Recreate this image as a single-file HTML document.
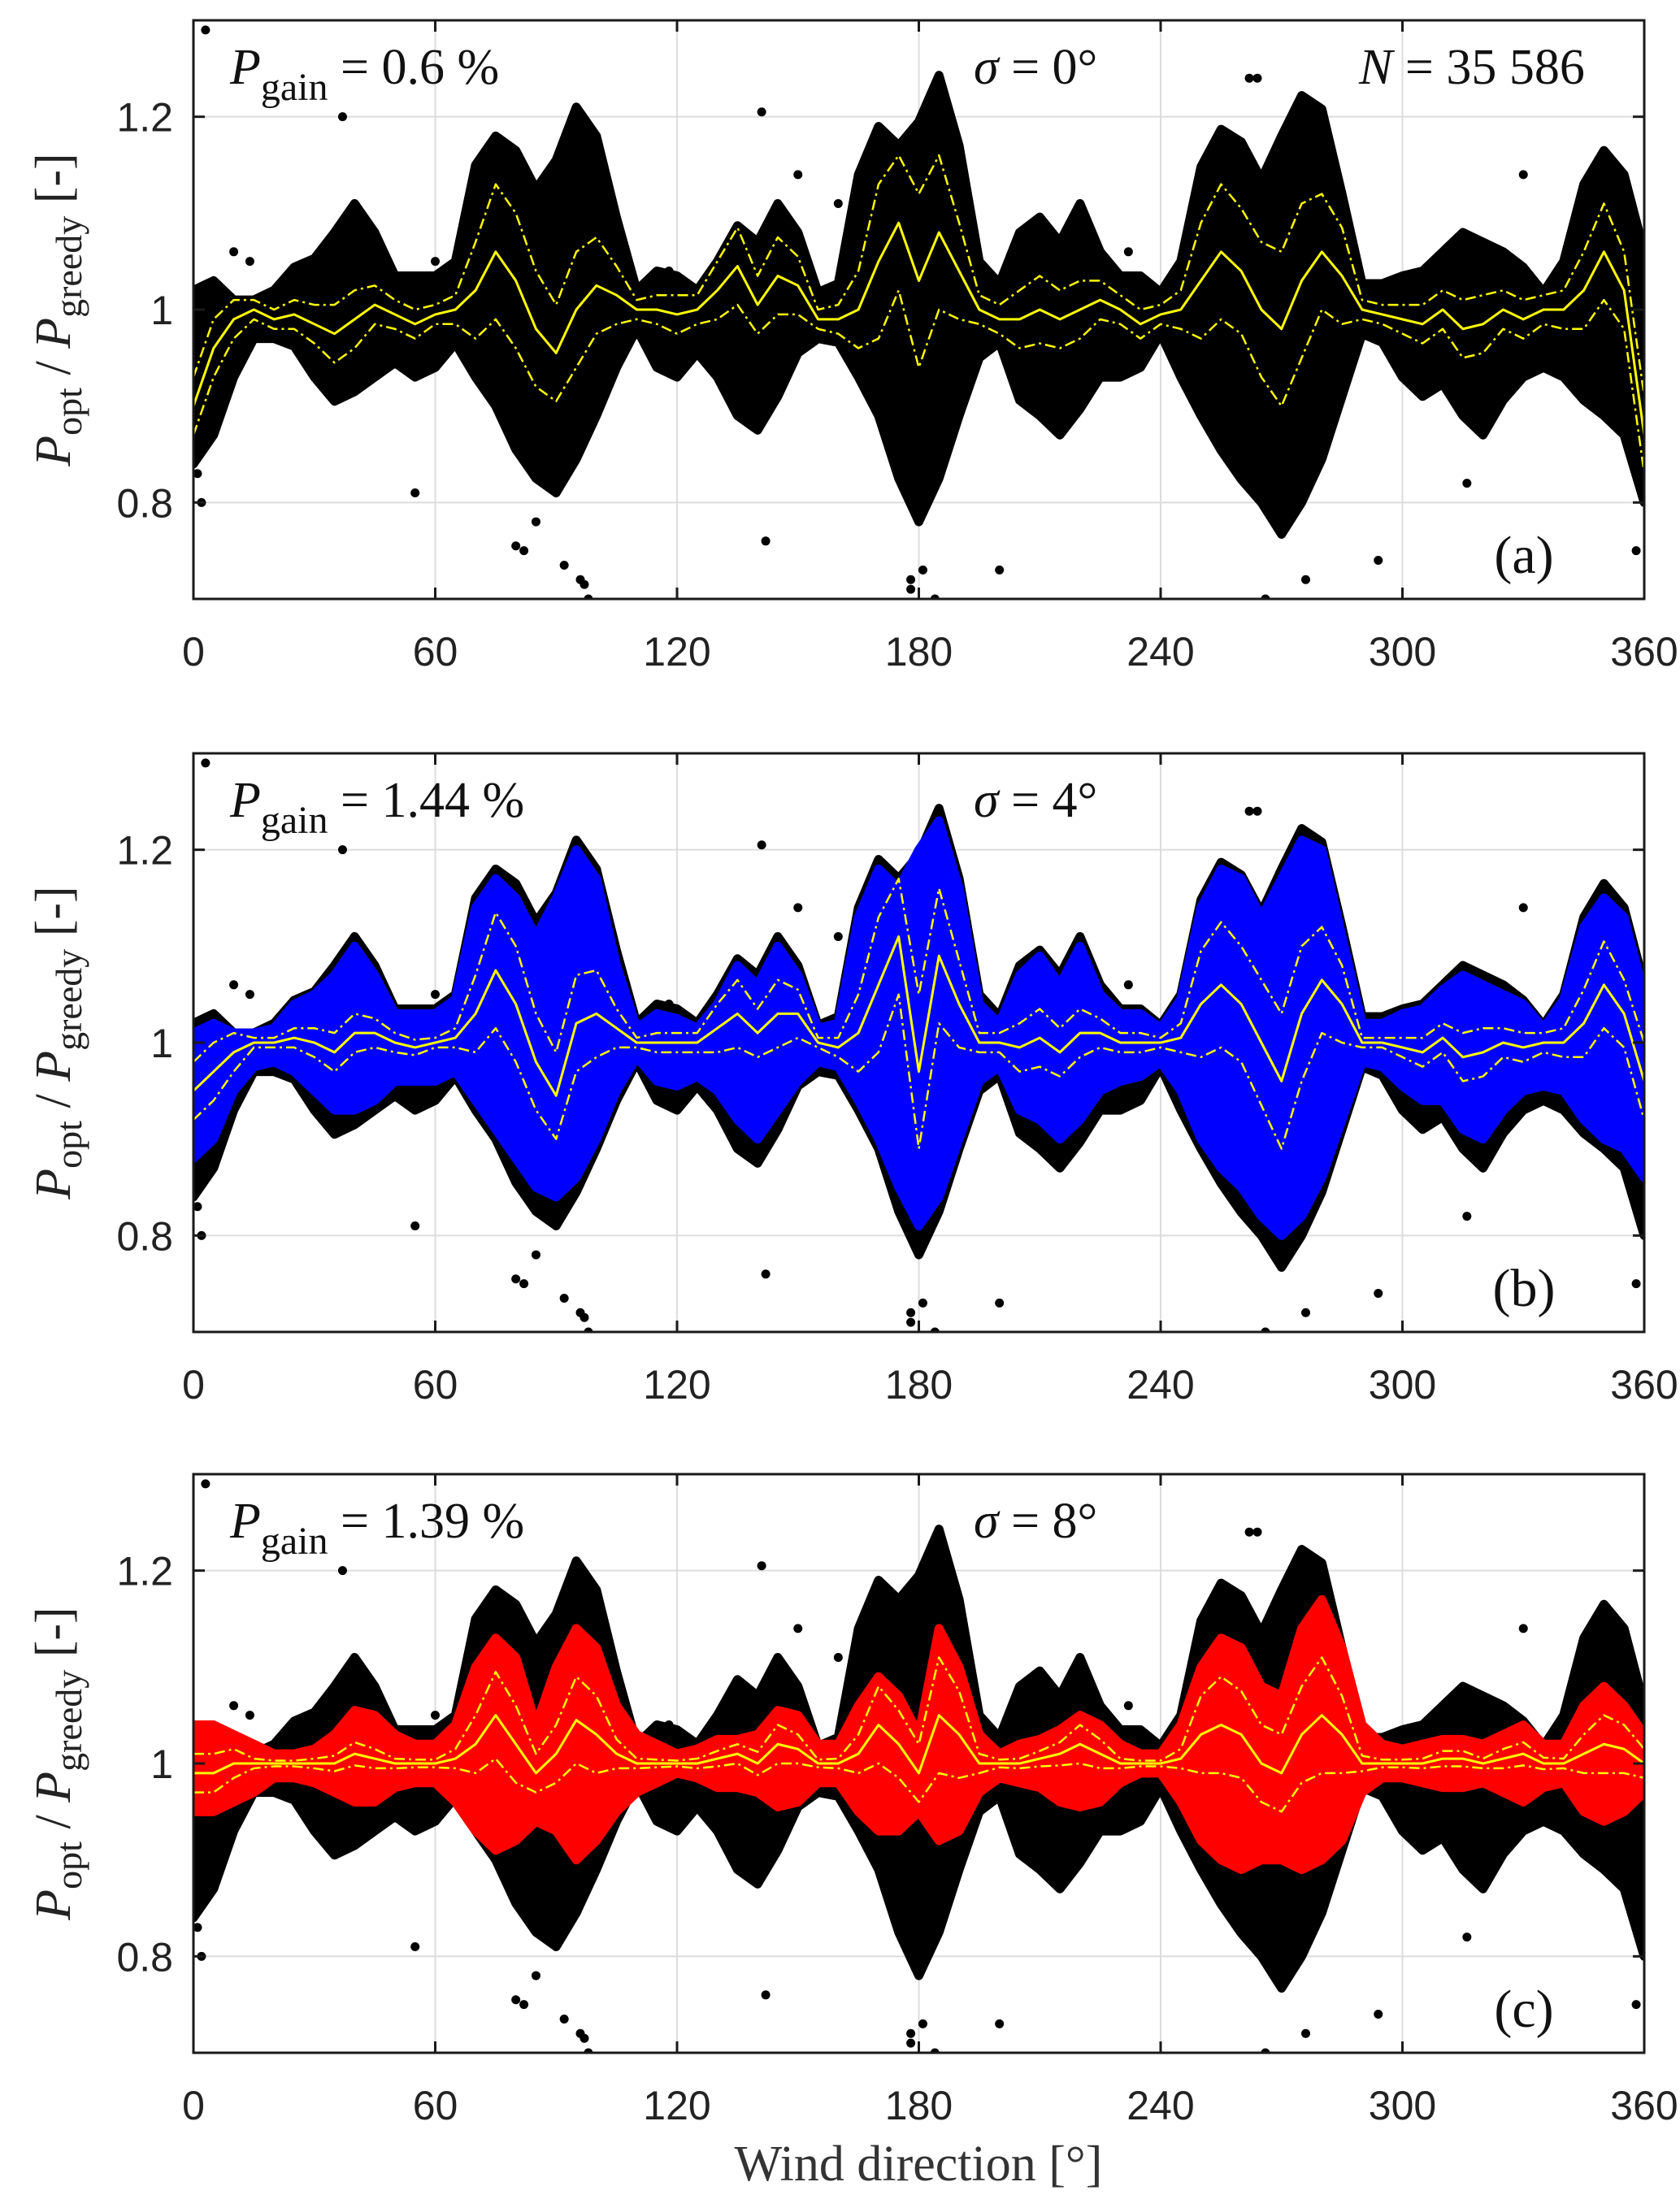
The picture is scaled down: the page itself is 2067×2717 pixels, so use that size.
<!DOCTYPE html>
<html><head><meta charset="utf-8"><style>
html,body{margin:0;padding:0;background:#fff;}
svg{display:block;}
.serif{font-family:"Liberation Serif",serif;}
.sans{font-family:"Liberation Sans",sans-serif;}
</style></head><body>
<svg id="fig" width="2067" height="2717" viewBox="0 0 2067 2717" xmlns="http://www.w3.org/2000/svg"></svg>
<script>
// ---- data (values per 5° bin, 0..360) ----
const directions = [0,5,10,15,20,25,30,35,40,45,50,55,60,65,70,75,80,85,90,95,100,105,110,115,120,125,130,135,140,145,150,155,160,165,170,175,180,185,190,195,200,205,210,215,220,225,230,235,240,245,250,255,260,265,270,275,280,285,290,295,300,305,310,315,320,325,330,335,340,345,350,355,360];
const blackUpper = [1.02,1.03,1.01,1.01,1.02,1.044,1.053,1.08,1.11,1.08,1.035,1.035,1.035,1.05,1.15,1.18,1.165,1.125,1.155,1.21,1.18,1.095,1.02,1.04,1.035,1.02,1.05,1.087,1.07,1.11,1.08,1.018,1.027,1.14,1.19,1.17,1.195,1.243,1.17,1.05,1.027,1.08,1.096,1.07,1.11,1.06,1.035,1.035,1.018,1.05,1.148,1.187,1.174,1.135,1.18,1.222,1.208,1.12,1.027,1.027,1.035,1.04,1.06,1.08,1.07,1.06,1.044,1.018,1.05,1.13,1.165,1.14,1.06];
const blackLower = [0.84,0.87,0.93,0.97,0.97,0.962,0.93,0.905,0.915,0.93,0.945,0.93,0.94,0.965,0.93,0.9,0.855,0.825,0.81,0.845,0.89,0.94,0.98,0.94,0.93,0.955,0.93,0.89,0.875,0.91,0.955,0.97,0.966,0.93,0.89,0.825,0.78,0.825,0.89,0.95,0.966,0.906,0.89,0.87,0.897,0.93,0.93,0.94,0.975,0.93,0.89,0.854,0.824,0.8,0.767,0.8,0.845,0.91,0.975,0.966,0.93,0.91,0.923,0.89,0.87,0.906,0.93,0.94,0.93,0.906,0.89,0.87,0.8];
const blueUpper = [1.01,1.02,1.01,1.01,1.015,1.04,1.05,1.07,1.1,1.07,1.03,1.03,1.03,1.045,1.14,1.17,1.15,1.11,1.15,1.2,1.17,1.08,1.015,1.03,1.025,1.015,1.04,1.08,1.06,1.1,1.07,1.015,1.02,1.13,1.18,1.16,1.2,1.23,1.16,1.04,1.02,1.07,1.09,1.06,1.1,1.05,1.03,1.03,1.015,1.045,1.14,1.18,1.17,1.13,1.17,1.21,1.2,1.11,1.02,1.02,1.03,1.035,1.055,1.07,1.06,1.05,1.04,1.015,1.045,1.12,1.15,1.13,1.05];
const blueLower = [0.88,0.9,0.95,0.975,0.98,0.97,0.95,0.93,0.93,0.94,0.96,0.96,0.96,0.97,0.94,0.91,0.88,0.85,0.84,0.86,0.9,0.95,0.985,0.96,0.955,0.965,0.95,0.92,0.9,0.93,0.96,0.98,0.975,0.94,0.9,0.85,0.81,0.84,0.9,0.96,0.975,0.93,0.92,0.9,0.92,0.95,0.96,0.965,0.98,0.95,0.9,0.87,0.85,0.82,0.8,0.82,0.86,0.92,0.98,0.975,0.955,0.94,0.94,0.91,0.9,0.93,0.95,0.955,0.95,0.92,0.9,0.89,0.86];
const redUpper = [1.04,1.04,1.03,1.02,1.01,1.01,1.015,1.03,1.055,1.05,1.03,1.02,1.02,1.04,1.1,1.13,1.11,1.04,1.1,1.14,1.12,1.06,1.03,1.02,1.01,1.015,1.025,1.025,1.03,1.055,1.05,1.02,1.02,1.06,1.09,1.07,1.03,1.14,1.1,1.03,1.01,1.02,1.025,1.035,1.05,1.04,1.02,1.01,1.01,1.04,1.1,1.13,1.12,1.08,1.07,1.14,1.17,1.12,1.04,1.02,1.015,1.02,1.025,1.025,1.02,1.03,1.04,1.02,1.02,1.06,1.08,1.06,1.03];
const redLower = [0.95,0.95,0.96,0.97,0.985,0.985,0.98,0.97,0.96,0.96,0.975,0.98,0.98,0.96,0.93,0.91,0.92,0.94,0.93,0.9,0.92,0.95,0.97,0.98,0.99,0.985,0.975,0.975,0.97,0.955,0.96,0.98,0.98,0.95,0.93,0.93,0.95,0.92,0.93,0.97,0.985,0.98,0.975,0.96,0.955,0.96,0.98,0.99,0.99,0.96,0.92,0.9,0.89,0.9,0.9,0.89,0.9,0.92,0.97,0.985,0.985,0.98,0.975,0.975,0.98,0.97,0.96,0.975,0.98,0.95,0.94,0.95,0.97];
const meanA = [0.9,0.96,0.99,1.0,0.99,0.995,0.985,0.975,0.99,1.005,0.995,0.985,0.995,1.0,1.02,1.06,1.03,0.98,0.955,1.0,1.025,1.015,1.0,1.0,0.995,1.0,1.02,1.045,1.005,1.035,1.025,0.99,0.99,1.0,1.05,1.09,1.03,1.08,1.04,1.0,0.99,0.99,1.0,0.99,1.0,1.01,1.0,0.985,0.995,1.0,1.03,1.06,1.04,1.0,0.98,1.03,1.06,1.035,1.0,0.995,0.99,0.985,1.0,0.98,0.985,1.0,0.99,1.0,1.0,1.02,1.06,1.02,0.87];
const stdA = [0.03,0.03,0.02,0.01,0.01,0.015,0.02,0.03,0.03,0.02,0.015,0.015,0.01,0.015,0.05,0.07,0.07,0.06,0.05,0.06,0.05,0.03,0.01,0.015,0.02,0.015,0.03,0.04,0.03,0.04,0.03,0.01,0.015,0.04,0.08,0.07,0.09,0.08,0.05,0.015,0.015,0.03,0.035,0.03,0.03,0.02,0.015,0.015,0.01,0.02,0.06,0.07,0.065,0.07,0.08,0.08,0.06,0.05,0.01,0.01,0.015,0.02,0.02,0.03,0.03,0.02,0.02,0.015,0.02,0.04,0.05,0.04,0.04];
const meanB = [0.95,0.97,0.99,1.0,1.0,1.005,1.0,0.99,1.01,1.01,1.0,0.995,1.0,1.005,1.03,1.075,1.04,0.98,0.945,1.02,1.03,1.015,1.0,1.0,1.0,1.0,1.015,1.03,1.01,1.03,1.03,1.0,0.995,1.01,1.06,1.11,0.97,1.09,1.04,1.0,1.0,0.995,1.005,0.99,1.01,1.01,1.0,1.0,1.0,1.005,1.04,1.06,1.04,1.0,0.96,1.03,1.065,1.04,1.0,1.0,0.995,0.99,1.005,0.985,0.99,1.0,0.995,1.0,1.0,1.02,1.06,1.03,0.96];
const stdB = [0.03,0.03,0.02,0.005,0.005,0.01,0.015,0.02,0.02,0.015,0.01,0.008,0.005,0.01,0.04,0.06,0.06,0.05,0.045,0.05,0.045,0.02,0.005,0.01,0.01,0.01,0.025,0.035,0.025,0.035,0.025,0.005,0.01,0.04,0.07,0.06,0.08,0.07,0.045,0.01,0.01,0.025,0.03,0.025,0.025,0.015,0.01,0.01,0.005,0.015,0.055,0.065,0.06,0.065,0.07,0.07,0.055,0.04,0.005,0.005,0.01,0.015,0.015,0.025,0.025,0.015,0.015,0.01,0.015,0.035,0.045,0.035,0.04];
const meanC = [0.99,0.99,1.0,1.0,1.0,1.0,1.0,1.0,1.01,1.005,1.0,1.0,1.0,1.005,1.02,1.05,1.02,0.99,1.01,1.045,1.03,1.01,1.0,1.0,1.0,1.0,1.005,1.01,1.0,1.02,1.015,1.0,1.0,1.01,1.04,1.02,0.99,1.05,1.03,1.0,1.0,1.0,1.005,1.01,1.02,1.01,1.0,1.0,1.0,1.005,1.03,1.04,1.03,1.0,0.99,1.03,1.05,1.03,1.0,1.0,1.0,1.0,1.005,1.005,1.0,1.005,1.01,1.0,1.0,1.01,1.02,1.015,1.0];
const stdC = [0.02,0.02,0.015,0.005,0.003,0.003,0.005,0.008,0.012,0.01,0.005,0.004,0.004,0.01,0.03,0.045,0.04,0.02,0.03,0.045,0.04,0.015,0.005,0.004,0.003,0.005,0.008,0.01,0.012,0.02,0.015,0.004,0.005,0.02,0.04,0.035,0.03,0.06,0.045,0.01,0.004,0.005,0.008,0.012,0.02,0.015,0.005,0.003,0.003,0.01,0.04,0.05,0.045,0.04,0.04,0.05,0.06,0.04,0.008,0.004,0.004,0.005,0.008,0.008,0.005,0.01,0.012,0.006,0.005,0.02,0.03,0.025,0.015];
const outlierDir = [3,14,37,10,55,80,82,85,96,97,98,92,118,142,150,160,178,181,184,200,210,215,232,262,264,266,276,294,316,330,358,359,1,2,60,141,178];
const outlierVal = [1.29,1.05,1.2,1.06,0.81,0.755,0.75,0.78,0.72,0.715,0.7,0.735,1.04,0.76,1.14,1.11,0.71,0.73,0.70,0.73,1.07,1.05,1.06,1.24,1.24,0.70,0.72,0.74,0.82,1.14,0.75,0.82,0.83,0.8,1.05,1.205,0.72];
const xTicks = [0,60,120,180,240,300,360];
const yTicks = [0.8,1,1.2];
const panelTops = [25,927,1814];
const panelGain = ['0.6','1.44','1.39'];
const panelSigma = ['0','4','8'];
const panelLetters = ['(a)','(b)','(c)'];

// ---- layout ----
const NS='http://www.w3.org/2000/svg';
const svg=document.getElementById('fig');
const L=238,R=2023,H=712;
function mk(tag,attrs,parent){const e=document.createElementNS(NS,tag);for(const k in attrs)e.setAttribute(k,attrs[k]);(parent||svg).appendChild(e);return e;}
function xs(d){return L+(d/360)*(R-L);}

for(let p=0;p<3;p++){
  const T=panelTops[p],B=T+H;
  const ys=v=>B-(v-0.7)/0.6*H;
  const g=mk('g',{});
  
  
  const clipId='clip'+p;
  const cp=mk('clipPath',{id:clipId},g);
  mk('rect',{x:L,y:T,width:R-L,height:H},cp);
  xTicks.forEach(t=>{if(t>0&&t<360){const l=mk('line',{x1:xs(t),x2:xs(t),y1:T,y2:B,stroke:'#dcdcdc','stroke-width':2},g);}});
  yTicks.forEach(t=>{const l=mk('line',{x1:L,x2:R,y1:ys(t),y2:ys(t),stroke:'#dcdcdc','stroke-width':2},g);});
  const cg=mk('g',{'clip-path':'url(#'+clipId+')'},g);
  function band(up,lo,color,name){
    let pts=directions.map((d,i)=>xs(d)+','+ys(up[i]));
    for(let i=directions.length-1;i>=0;i--)pts.push(xs(directions[i])+','+ys(lo[i]));
    const e=mk('polygon',{points:pts.join(' '),fill:color,stroke:color,'stroke-width':11,'stroke-linejoin':'round'},cg);
    
    
  }
  band(blackUpper,blackLower,'#000','scatter-greedy-envelope');
  outlierDir.forEach((d,i)=>{const c=mk('circle',{cx:xs(d),cy:ys(outlierVal[i]),r:5.5,fill:'#000'},cg);});
  let mean=meanA,sd=stdA;
  if(p===1){band(blueUpper,blueLower,'#0000ff','scatter-sigma4-envelope');mean=meanB;sd=stdB;}
  if(p===2){band(redUpper,redLower,'#ff0000','scatter-sigma8-envelope');mean=meanC;sd=stdC;}
  const line=(arr,name,dash,w)=>{const e=mk('polyline',{points:directions.map((d,i)=>xs(d)+','+ys(arr[i])).join(' '),fill:'none',stroke:'#ffff00','stroke-width':w,'stroke-dasharray':dash||'none','stroke-linejoin':'round'},cg);};
  line(mean.map((m,i)=>m+sd[i]),'mean-plus-std-line','13,5,3,5',2.5);
  line(mean.map((m,i)=>m-sd[i]),'mean-minus-std-line','13,5,3,5',2.5);
  line(mean,'mean-line',null,3);
  const bx=mk('rect',{x:L,y:T,width:R-L,height:H,fill:'none',stroke:'#1a1a1a','stroke-width':3},g);
  
  xTicks.forEach(t=>{mk('line',{x1:xs(t),x2:xs(t),y1:B,y2:B-14,stroke:'#1a1a1a','stroke-width':3},g);mk('line',{x1:xs(t),x2:xs(t),y1:T,y2:T+14,stroke:'#1a1a1a','stroke-width':3},g);
    const tx=mk('text',{x:xs(t),y:B+82,'text-anchor':'middle',class:'sans','font-size':50,fill:'#222'},g);tx.textContent=t;
    });
  yTicks.forEach(t=>{mk('line',{x1:L,x2:L+14,y1:ys(t),y2:ys(t),stroke:'#1a1a1a','stroke-width':3},g);mk('line',{x1:R,x2:R-14,y1:ys(t),y2:ys(t),stroke:'#1a1a1a','stroke-width':3},g);
    const tx=mk('text',{x:213,y:ys(t)+18,'text-anchor':'end',class:'sans','font-size':50,fill:'#222'},g);tx.textContent=String(t);
    });
  const yl=mk('text',{transform:'translate(86,'+(T+H/2)+') rotate(-90)','text-anchor':'middle',class:'serif','font-size':62,fill:'#222'},g);
  yl.innerHTML='<tspan font-style="italic">P</tspan><tspan font-size="46" dy="14">opt</tspan><tspan dy="-14"> / </tspan><tspan font-style="italic">P</tspan><tspan font-size="46" dy="14">greedy</tspan><tspan dy="-14">  [-]</tspan>';
  
  const ga=mk('text',{x:283,y:T+78,class:'serif','font-size':62,fill:'#111'},g);
  ga.innerHTML='<tspan font-style="italic">P</tspan><tspan font-size="48" dy="20">gain</tspan><tspan dy="-20"> = '+panelGain[p]+' %</tspan>';
  
  const sg=mk('text',{x:1198,y:T+78,class:'serif','font-size':62,fill:'#111'},g);
  sg.innerHTML='<tspan font-style="italic">σ</tspan> = '+panelSigma[p]+'°';
  
  if(p===0){const n=mk('text',{x:1672,y:T+78,class:'serif','font-size':62,fill:'#111'},g);
    n.innerHTML='<tspan font-style="italic">N</tspan> = 35 586';
    }
  const pl=mk('text',{x:1875,y:T+680,'text-anchor':'middle',class:'serif','font-size':66,fill:'#111'},g);
  pl.textContent=panelLetters[p];
  
}
const xl=mk('text',{x:1130,y:2683,'text-anchor':'middle',class:'serif','font-size':62,fill:'#333'});
xl.textContent='Wind direction [°]';


</script>
</body></html>
